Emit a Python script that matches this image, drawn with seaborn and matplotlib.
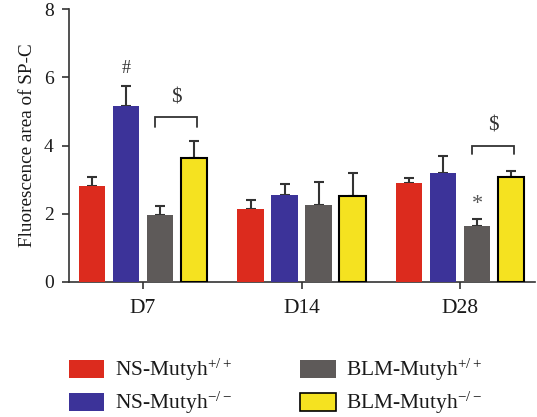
import numpy as np
import pandas as pd
import matplotlib
matplotlib.use("Agg")
import matplotlib.pyplot as plt
import seaborn as sns

days = ["D7", "D14", "D28"]
groups = ["NS-Mutyh$^{+/+}$", "NS-Mutyh$^{-/-}$", "BLM-Mutyh$^{+/+}$", "BLM-Mutyh$^{-/-}$"]
ns_wt = [2.81, 2.14, 2.90]
ns_ko = [5.16, 2.55, 3.19]
blm_wt = [1.96, 2.26, 1.64]
blm_ko = [3.63, 2.53, 3.07]
ns_wt_err = [0.27, 0.26, 0.16]
ns_ko_err = [0.59, 0.31, 0.50]
blm_wt_err = [0.27, 0.66, 0.20]
blm_ko_err = [0.50, 0.66, 0.18]
colors = ["#dc2b1e", "#3c3399", "#5e5a59", "#f5e220"]

sns.set_style("ticks")
plt.rcParams["font.family"] = ["Liberation Serif", "DejaVu Serif"]
plt.rcParams["mathtext.fontset"] = "custom"
plt.rcParams["mathtext.rm"] = "Liberation Serif"
plt.rcParams["mathtext.it"] = "Liberation Serif:italic"

vals = [ns_wt, ns_ko, blm_wt, blm_ko]
errs = [ns_wt_err, ns_ko_err, blm_wt_err, blm_ko_err]
rows = []
for g, v, e in zip(groups, vals, errs):
    for d, vv, ee in zip(days, v, e):
        rows.append({"day": d, "group": g, "value": vv, "err": ee})
df = pd.DataFrame(rows)

fig = plt.figure(figsize=(5.37, 4.17), dpi=100)
ax = fig.add_axes([69/537, 1-282/417, (535-69)/537, 273/417])

sns.barplot(data=df, x="day", y="value", hue="group", order=days, hue_order=groups,
            palette=colors, errorbar=None, width=0.858, gap=0.21, saturation=1,
            ax=ax, legend=True, linewidth=0, zorder=3)

bars = [p for p in ax.patches if p.get_height() > 0]
for gi, g in enumerate(groups):
    for di, d in enumerate(days):
        p = bars[gi * len(days) + di]
        xc = p.get_x() + p.get_width() / 2
        h = p.get_height()
        ax.errorbar(xc, h, yerr=[[0], [errs[gi][di]]], fmt="none", ecolor="#333333",
                    elinewidth=1.5, capsize=3.3, capthick=1.5, zorder=2)
        if gi == 3:
            p.set_edgecolor("black")
            p.set_linewidth(1.5)

def center(gi, di):
    p = bars[gi * len(days) + di]
    return p.get_x() + p.get_width() / 2

ax.text(center(1, 0), 6.0, "#", ha="center", va="bottom", fontsize=13, color="#333333")
ax.text(center(2, 2), 1.98, "*", ha="center", va="bottom", fontsize=16, color="#555555")
bracket_days = [0, 2]
bracket_top = [4.84, 3.99]
bracket_leg = [0.30, 0.25]
dollar_y = [5.12, 4.3]
for di, top, leg, dy in zip(bracket_days, bracket_top, bracket_leg, dollar_y):
    x1 = center(2, di) - 0.03
    x2 = center(3, di) + 0.02
    ax.plot([x1, x1, x2, x2], [top - leg, top, top, top - leg], color="#333333", lw=1.3,
            solid_joinstyle="miter")
    ax.text((x1 + x2) / 2, dy, "$", ha="center", va="bottom", fontsize=15, color="#333333")

ax.set_ylim(0, 8)
ax.set_yticks([0, 2, 4, 6, 8])
ax.set_xlim(-0.467, 2.473)
ax.set_xlabel("")
ax.set_ylabel("Fluorescence area of SP-C", fontsize=13.8, color="#1a1a1a", labelpad=6)
ax.tick_params(axis="y", labelsize=14, length=5, width=1.2, pad=6, colors="#333333", labelcolor="#1a1a1a")
ax.tick_params(axis="x", labelsize=15.5, length=5, width=1.2, colors="#333333", labelcolor="#1a1a1a", pad=7)
for s in ["top", "right"]:
    ax.spines[s].set_visible(False)
for s in ["left", "bottom"]:
    ax.spines[s].set_linewidth(1.2)
    ax.spines[s].set_color("#333333")

handles, labels = ax.get_legend_handles_labels()
ax.get_legend().remove()
handles[3].set_edgecolor("black")
handles[3].set_linewidth(1.2)
fs = 15.5
fig.legend(handles, labels, ncol=2, loc="upper left", bbox_to_anchor=(69/537, 1-357/417),
           frameon=False, fontsize=fs, handlelength=1.63, handleheight=0.9,
           handletextpad=0.5, columnspacing=3.2, labelspacing=0.32, borderpad=0,
           borderaxespad=0, labelcolor="#1a1a1a")

fig.savefig("out.png", dpi=100)
